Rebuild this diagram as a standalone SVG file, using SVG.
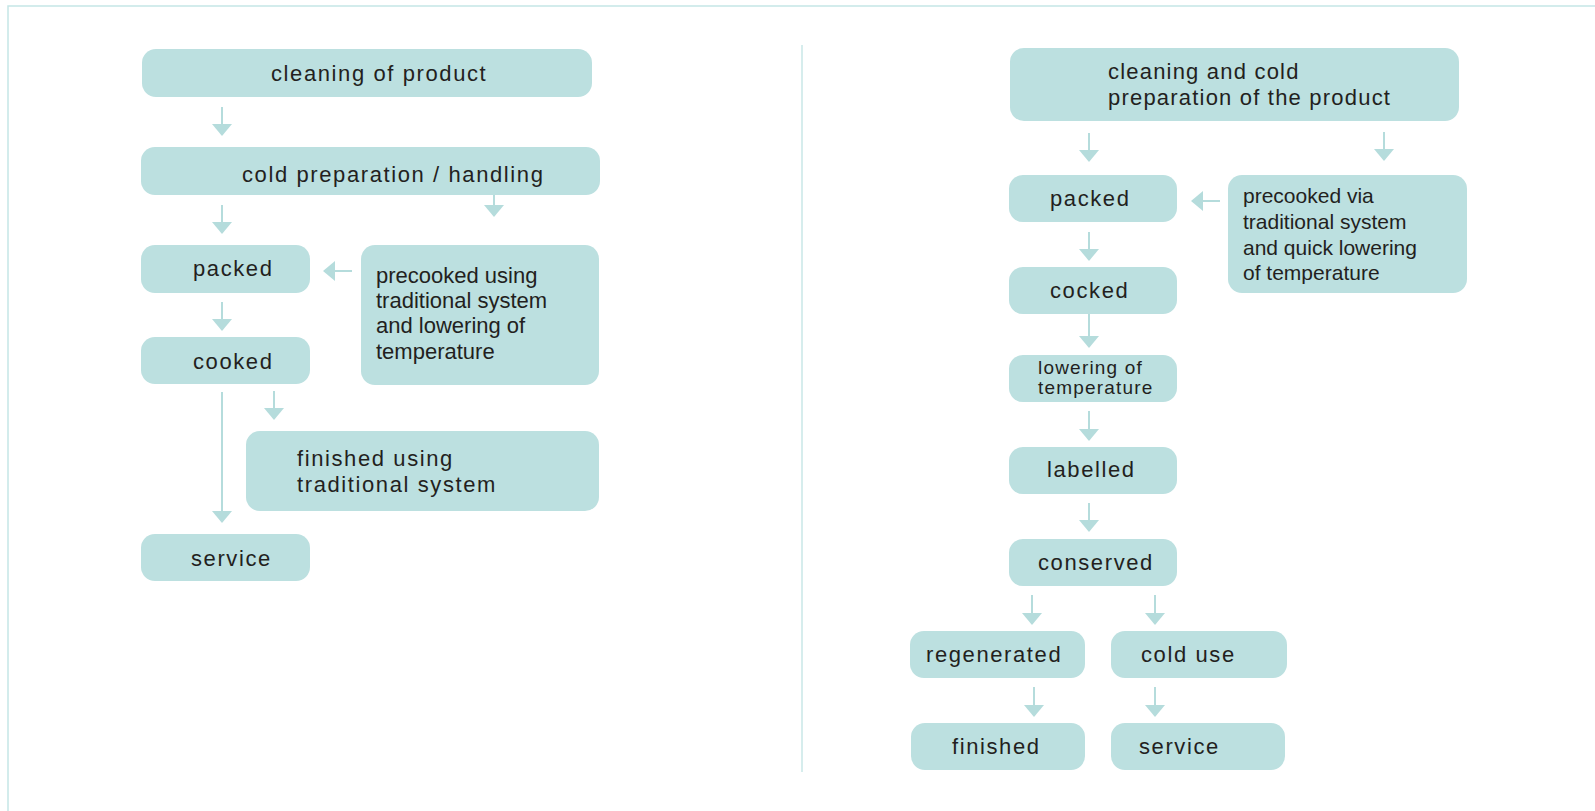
<svg xmlns="http://www.w3.org/2000/svg" width="1595" height="811" viewBox="0 0 1595 811">
<style>
.box{fill:#bce0e0}
.t{font-family:"Liberation Sans",Arial,sans-serif;font-size:22px;fill:#231f20;letter-spacing:1.6px}
.c{font-family:"Liberation Sans",Arial,sans-serif;font-size:22px;fill:#231f20}
.c21{font-family:"Liberation Sans",Arial,sans-serif;font-size:21px;fill:#231f20}
.s{font-family:"Liberation Sans",Arial,sans-serif;font-size:19px;fill:#231f20;letter-spacing:1.2px}
.h{font-family:"Liberation Sans",Arial,sans-serif;font-size:22px;fill:#231f20;letter-spacing:1.2px}
.ar{stroke:#b5dcdc;stroke-width:2;fill:none;marker-end:url(#ah)}
.frame{stroke:#c5e6e6;stroke-width:1.5;fill:none}
</style>
<defs>
<marker id="ah" markerUnits="userSpaceOnUse" viewBox="0 0 12 20" refX="0" refY="10" markerWidth="12" markerHeight="20" orient="auto">
<path d="M0,0 L12,10 L0,20 z" fill="#b5dcdc"/>
</marker>
</defs>
<rect width="1595" height="811" fill="#ffffff"/>
<path class="frame" d="M8,811 L8,6 L1595,6"/>
<line x1="802" y1="45" x2="802" y2="772" stroke="#d6eded" stroke-width="2"/>

<g id="connectors">
<line class="ar" x1="222" y1="107" x2="222" y2="124"/>
<line class="ar" x1="222" y1="205" x2="222" y2="222"/>
<line class="ar" x1="494" y1="195" x2="494" y2="205"/>
<line class="ar" x1="352" y1="271" x2="335" y2="271"/>
<line class="ar" x1="222" y1="302" x2="222" y2="319"/>
<line class="ar" x1="222" y1="392" x2="222" y2="511"/>
<line class="ar" x1="274" y1="391" x2="274" y2="408"/>

<line class="ar" x1="1089" y1="133" x2="1089" y2="150"/>
<line class="ar" x1="1384" y1="132" x2="1384" y2="149"/>
<line class="ar" x1="1220" y1="201" x2="1203" y2="201"/>
<line class="ar" x1="1089" y1="232" x2="1089" y2="249"/>
<line class="ar" x1="1089" y1="314" x2="1089" y2="336"/>
<line class="ar" x1="1089" y1="411" x2="1089" y2="429"/>
<line class="ar" x1="1089" y1="503" x2="1089" y2="520"/>
<line class="ar" x1="1032" y1="595" x2="1032" y2="613"/>
<line class="ar" x1="1155" y1="595" x2="1155" y2="613"/>
<line class="ar" x1="1034" y1="687" x2="1034" y2="705"/>
<line class="ar" x1="1155" y1="687" x2="1155" y2="705"/>
</g>

<g id="cleaning-of-product"><rect class="box" x="142" y="49" width="450" height="48" rx="14"/><text class="t" x="271" y="81">cleaning of product</text></g>
<g id="cold-preparation"><rect class="box" x="141" y="147" width="459" height="48" rx="14"/><text class="t" x="242" y="182">cold preparation / handling</text></g>
<g id="packed-left"><rect class="box" x="141" y="245" width="169" height="48" rx="14"/><text class="t" x="193" y="276">packed</text></g>
<g id="precooked-left"><rect class="box" x="361" y="245" width="238" height="140" rx="14"/><text class="c" x="376" y="283">precooked using</text><text class="c" x="376" y="308">traditional system</text><text class="c" x="376" y="333">and lowering of</text><text class="c" x="376" y="359">temperature</text></g>
<g id="cooked"><rect class="box" x="141" y="337" width="169" height="47" rx="14"/><text class="t" x="193" y="369">cooked</text></g>
<g id="finished-traditional"><rect class="box" x="246" y="431" width="353" height="80" rx="14"/><text class="t" x="297" y="466">finished using</text><text class="t" x="297" y="492">traditional system</text></g>
<g id="service-left"><rect class="box" x="141" y="534" width="169" height="47" rx="14"/><text class="t" x="191" y="566">service</text></g>

<g id="cleaning-cold"><rect class="box" x="1010" y="48" width="449" height="73" rx="14"/><text class="h" x="1108" y="79">cleaning and cold</text><text class="h" x="1108" y="105">preparation of the product</text></g>
<g id="packed-right"><rect class="box" x="1009" y="175" width="168" height="47" rx="14"/><text class="t" x="1050" y="206">packed</text></g>
<g id="precooked-right"><rect class="box" x="1228" y="175" width="239" height="118" rx="14"/><text class="c21" x="1243" y="203">precooked via</text><text class="c21" x="1243" y="229">traditional system</text><text class="c21" x="1243" y="255">and quick lowering</text><text class="c21" x="1243" y="280">of temperature</text></g>
<g id="cocked"><rect class="box" x="1009" y="267" width="168" height="47" rx="14"/><text class="t" x="1050" y="298">cocked</text></g>
<g id="lowering"><rect class="box" x="1009" y="355" width="168" height="47" rx="14"/><text class="s" x="1038" y="374">lowering of</text><text class="s" x="1038" y="394">temperature</text></g>
<g id="labelled"><rect class="box" x="1009" y="447" width="168" height="47" rx="14"/><text class="t" x="1047" y="477">labelled</text></g>
<g id="conserved"><rect class="box" x="1009" y="539" width="168" height="47" rx="14"/><text class="t" x="1038" y="570">conserved</text></g>
<g id="regenerated"><rect class="box" x="910" y="631" width="175" height="47" rx="14"/><text class="t" x="926" y="662">regenerated</text></g>
<g id="cold-use"><rect class="box" x="1111" y="631" width="176" height="47" rx="14"/><text class="t" x="1141" y="662">cold use</text></g>
<g id="finished"><rect class="box" x="911" y="723" width="174" height="47" rx="14"/><text class="t" x="952" y="754">finished</text></g>
<g id="service-right"><rect class="box" x="1111" y="723" width="174" height="47" rx="14"/><text class="t" x="1139" y="754">service</text></g>
</svg>
